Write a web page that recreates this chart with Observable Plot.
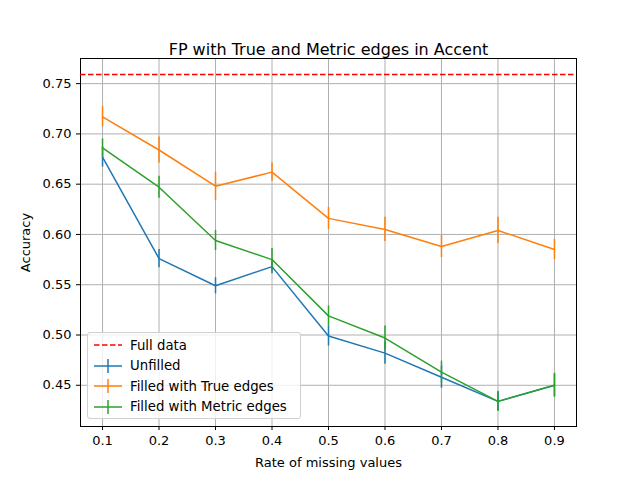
<!DOCTYPE html>
<html>
<head>
<meta charset="utf-8">
<script src="https://cdn.jsdelivr.net/npm/d3@7"></script>
<script src="https://cdn.jsdelivr.net/npm/@observablehq/plot@0.6"></script>
<style>
body { margin: 0; font-family: "DejaVu Sans", sans-serif; }
#chart { position: relative; width: 640px; height: 480px; }
.legend { position: absolute; left: 87px; top: 332px; width: 214px; height: 87px; background: rgba(255,255,255,0.8);
  border: 1px solid #d0d0d0; border-radius: 3px; font-size: 13.3px; box-sizing: border-box; padding: 2px 6px; }
.legend div { display: flex; align-items: center; height: 20.5px; }
.legend svg { margin-right: 8px; }
</style>
</head>
<body>
<div id="chart"></div>
<script>
const rates = [0.1, 0.2, 0.3, 0.4, 0.5, 0.6, 0.7, 0.8, 0.9];
const fullData = 0.759;
const unfilled = [0.677, 0.576, 0.549, 0.568, 0.499, 0.482, 0.458, 0.434, 0.450];
const unfilledErr = [0.010, 0.009, 0.008, 0.007, 0.010, 0.011, 0.011, 0.009, 0.011];
const trueEdges = [0.717, 0.684, 0.648, 0.662, 0.616, 0.605, 0.588, 0.604, 0.585];
const trueErr = [0.010, 0.013, 0.014, 0.009, 0.011, 0.012, 0.011, 0.013, 0.010];
const metric = [0.686, 0.647, 0.594, 0.575, 0.519, 0.497, 0.463, 0.434, 0.450];
const metricErr = [0.009, 0.011, 0.010, 0.011, 0.010, 0.012, 0.011, 0.010, 0.012];

const series = [
  {name: "Unfilled", vals: unfilled, err: unfilledErr, color: "#1f77b4"},
  {name: "Filled with True edges", vals: trueEdges, err: trueErr, color: "#ff7f0e"},
  {name: "Filled with Metric edges", vals: metric, err: metricErr, color: "#2ca02c"}
];

let marks = [
  Plot.frame({stroke: "black"}),
  Plot.ruleY([fullData], {stroke: "red", strokeWidth: 1.5, strokeDasharray: "5.5,2.5"})
];
series.forEach(s => {
  const data = rates.map((r, i) => ({x: r, y: s.vals[i], e: s.err[i]}));
  marks.push(Plot.ruleX(data, {x: "x", y1: d => d.y - d.e, y2: d => d.y + d.e, stroke: s.color, strokeWidth: 1.5}));
  marks.push(Plot.line(data, {x: "x", y: "y", stroke: s.color, strokeWidth: 1.5}));
});
marks.push(Plot.text(["FP with True and Metric edges in Accent"], {frameAnchor: "top", dy: -15, fontSize: 16, fill: "black"}));

const chart = Plot.plot({
  width: 640, height: 480,
  marginLeft: 80, marginRight: 64, marginTop: 58, marginBottom: 54,
  style: {fontFamily: "DejaVu Sans", fontSize: "13px", color: "black", background: "white"},
  x: {domain: [0.061, 0.939], ticks: rates, tickFormat: d3.format(".1f"), grid: true, label: "Rate of missing values", labelAnchor: "center", labelArrow: "none", labelOffset: 40, tickSize: 4},
  y: {domain: [0.409, 0.775], ticks: [0.45,0.5,0.55,0.6,0.65,0.7,0.75], tickFormat: d3.format(".2f"), grid: true, label: "Accuracy", labelAnchor: "center", labelArrow: "none", labelOffset: 60, tickSize: 4},
  marks
});
chart.querySelectorAll("[aria-label$='grid'] line").forEach(l => { l.setAttribute("stroke", "#b0b0b0"); l.setAttribute("stroke-opacity", 1); });
const div = document.getElementById("chart");
div.append(chart);

const leg = document.createElement("div");
leg.className = "legend";
const items = [{name: "Full data", color: "red", dash: true}, ...series];
items.forEach(s => {
  const row = document.createElement("div");
  row.innerHTML = `<svg width="28" height="16">${s.dash
    ? `<line x1="0" x2="28" y1="8" y2="8" stroke="${s.color}" stroke-width="1.5" stroke-dasharray="5.5,2.5"/>`
    : `<line x1="0" x2="28" y1="8" y2="8" stroke="${s.color}" stroke-width="1.5"/><line x1="14" x2="14" y1="1" y2="15" stroke="${s.color}" stroke-width="1.5"/>`}</svg>${s.name}`;
  leg.append(row);
});
div.append(leg);
</script>
</body>
</html>
